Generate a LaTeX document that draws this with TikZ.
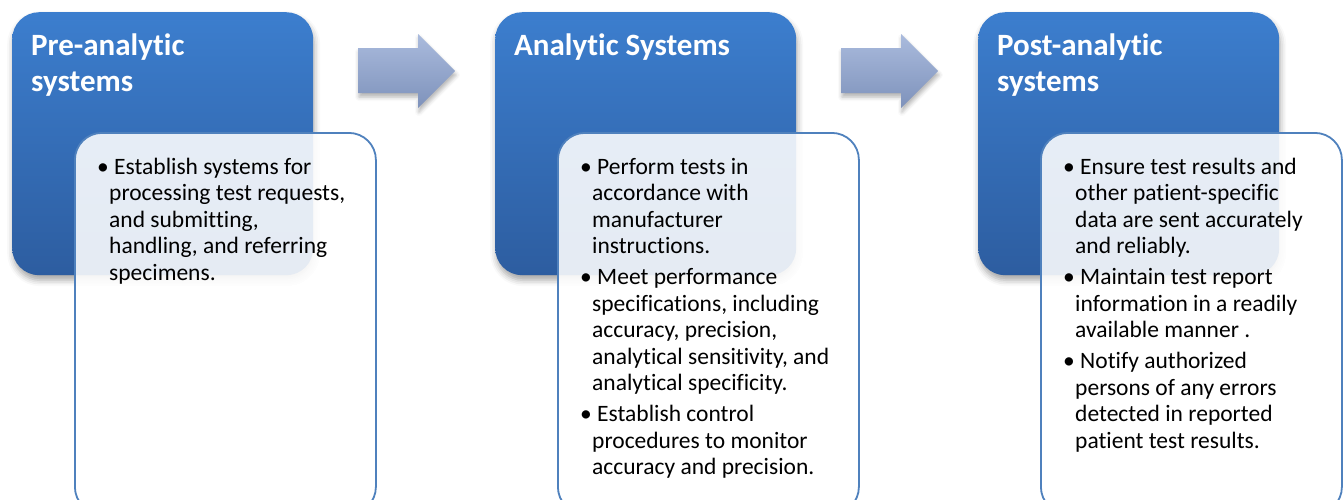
\documentclass[tikz,border=0pt]{standalone}
\usepackage{fontspec}
\setmainfont[Ligatures=NoCommon]{Carlito}
\usetikzlibrary{shadows.blur}

\definecolor{blueTop}{RGB}{60,126,206}
\definecolor{blueBot}{RGB}{45,93,160}
\definecolor{edgeBlue}{RGB}{79,129,189}
\definecolor{arrTop}{RGB}{170,187,221}
\definecolor{arrBot}{RGB}{126,146,187}

% heading inside a blue stage box
\newcommand\stagetitle[1]{\parbox[t]{285pt}{\fontsize{31}{36}\selectfont\bfseries #1}}
% bulleted text inside a white card
\newcommand\cardtext[1]{\parbox[t]{300pt}{\fontsize{23.5}{26.5}\selectfont
  \rightskip=0pt plus 1fil\hyphenpenalty=10000 #1}}
\newcommand\bpoint{\par\noindent\hangindent=12pt\hangafter=1\textbullet\ }
\newcommand\bgap{\par\vskip4.5pt}

\tikzset{
  stage/.style={rounded corners=27pt, top color=blueTop, bottom color=blueBot,
    draw=none, minimum width=301pt, minimum height=263pt, anchor=north west,
    inner sep=0pt,
    blur shadow={shadow xshift=1pt, shadow yshift=-5pt, shadow blur radius=6pt,
      shadow opacity=35}},
  card/.style={rounded corners=27pt, fill=white, fill opacity=0.88,
    draw=edgeBlue, draw opacity=1, line width=1.8pt, minimum width=301pt,
    minimum height=381pt, anchor=north west, inner sep=0pt},
  heading/.style={anchor=base west, inner sep=0pt, text=white},
  body/.style={anchor=base west, inner sep=0pt, text=black},
  flow/.style={top color=arrTop, bottom color=arrBot, draw=none,
    blur shadow={shadow xshift=1pt, shadow yshift=-4pt, shadow blur radius=4pt,
      shadow opacity=30}},
}

\begin{document}
\begin{tikzpicture}[x=1pt, y=-1pt]
\useasboundingbox (0,0) rectangle (1343,499);

% ---- stage 1 ----
\node[stage] (pre) at (12,12) {};
\node[heading] (pretitle) at (31,55) {\stagetitle{Pre-analytic\\systems}};
\node[card] (precard) at (74,132) {};
\node[body] (pretext) at (97,174) {\cardtext{%
  \bpoint Establish systems for\\processing test requests,\\and submitting,\\handling, and referring\\specimens.}};

% ---- stage 2 ----
\node[stage] (ana) at (495,12) {};
\node[heading] (anatitle) at (514,55) {\stagetitle{Analytic Systems}};
\node[card] (anacard) at (557,132) {};
\node[body] (anatext) at (580,174) {\cardtext{%
  \bpoint Perform tests in\\accordance with\\manufacturer\\instructions.
  \bgap\bpoint Meet performance\\specifications, including\\accuracy, precision,\\analytical sensitivity, and\\analytical specificity.
  \bgap\bpoint Establish control\\procedures to monitor\\accuracy and precision.}};

% ---- stage 3 ----
\node[stage] (post) at (978,12) {};
\node[heading] (posttitle) at (997,55) {\stagetitle{Post-analytic\\systems}};
\node[card] (postcard) at (1040,132) {};
\node[body] (posttext) at (1063,174) {\cardtext{%
  \bpoint Ensure test results and\\other patient-specific\\data are sent accurately\\and reliably.
  \bgap\bpoint Maintain test report\\information in a readily\\available manner .
  \bgap\bpoint Notify authorized\\persons of any errors\\detected in reported\\patient test results.}};

% ---- block arrows between the stages ----
\foreach \dx in {0,483}{
  \path[flow, shift={(\dx pt,0pt)}] (358,48) -- (418,48) -- (418,34) -- (455,71)
    -- (418,108) -- (418,93) -- (358,93) -- cycle;
}
\end{tikzpicture}
\end{document}
